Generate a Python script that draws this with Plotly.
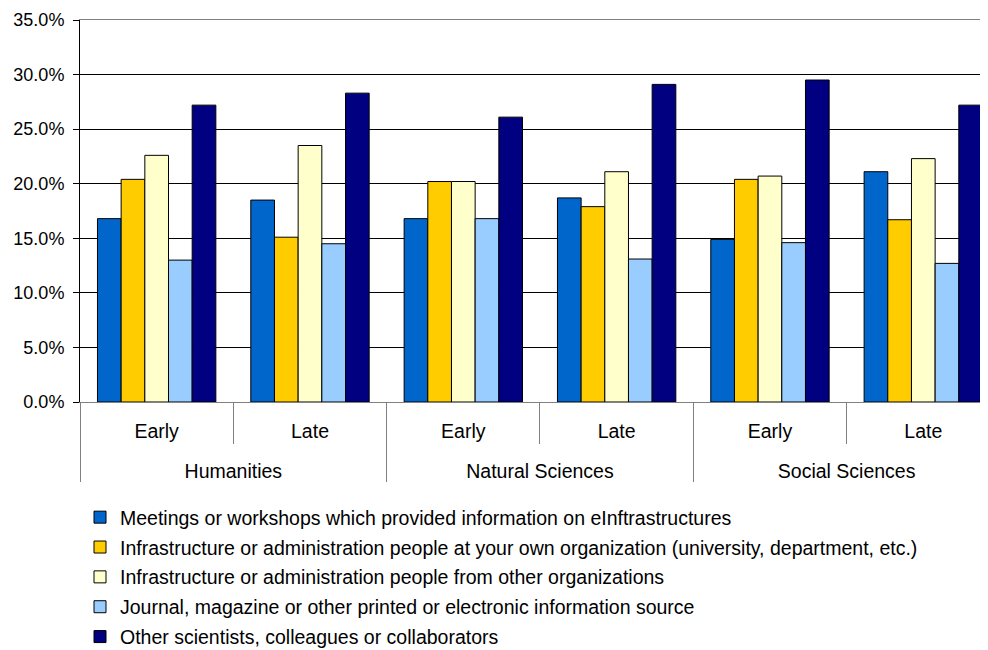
import plotly.graph_objects as go

# x categories (two levels)
disciplines = ["Humanities", "Humanities", "Natural Sciences", "Natural Sciences",
               "Social Sciences", "Social Sciences"]
periods = ["Early", "Late", "Early", "Late", "Early", "Late"]

# share of respondents (%) per information source
meetings = [16.8, 18.5, 16.8, 18.7, 14.9, 21.1]
own_org_staff = [20.4, 15.1, 20.2, 17.9, 20.4, 16.7]
other_org_staff = [22.6, 23.5, 20.2, 21.1, 20.7, 22.3]
journals = [13.0, 14.5, 16.8, 13.1, 14.6, 12.7]
colleagues = [27.2, 28.3, 26.1, 29.1, 29.5, 27.2]

series_names = [
    "Meetings or workshops which provided information on eInftrastructures",
    "Infrastructure or administration people at your own organization (university, department, etc.)",
    "Infrastructure or administration people from other organizations",
    "Journal, magazine or other printed or electronic information source",
    "Other scientists, colleagues or collaborators",
]
series_values = [meetings, own_org_staff, other_org_staff, journals, colleagues]
colors = ["#0066CC", "#FFCC00", "#FFFFCC", "#99CCFF", "#000080"]

FONT = "Arial, Liberation Sans, sans-serif"

# blank second line under the inner labels leaves room between the two label rows
period_labels = [p + "<br><span style='font-size:30px'> </span>" for p in periods]

fig = go.Figure()
for i, (name, vals, col) in enumerate(zip(series_names, series_values, colors)):
    fig.add_trace(go.Bar(
        x=[disciplines, period_labels], y=vals, name=name, legendgroup=str(i),
        marker=dict(color=col, line=dict(color="#000000", width=1)),
    ))

# page body adds an 8px offset, so the figure is 8px smaller than the window
fig.update_layout(
    width=980, height=642,
    margin=dict(l=72, r=0, t=12, b=248, autoexpand=False),
    paper_bgcolor="white", plot_bgcolor="white",
    font=dict(family=FONT, size=19.5, color="#000000"),
    barmode="group", bargap=0.228, bargroupgap=0,
    legend=dict(
        x=0.0, xanchor="left", y=-0.2513, yanchor="top",
        font=dict(size=19.5), tracegroupgap=1.5, bgcolor="rgba(0,0,0,0)",
    ),
)
fig.update_yaxes(
    range=[0, 35], dtick=5, tickformat=".1f", ticksuffix="%",
    showgrid=True, gridcolor="#000000", gridwidth=1,
    showline=True, linecolor="#000000", linewidth=1,
    ticks="outside", ticklen=6, tickcolor="#000000", ticklabelstandoff=5,
    tickfont=dict(size=18), zeroline=False, automargin=False,
)
fig.update_xaxes(
    type="multicategory", range=[-0.5, 5.422],
    showline=True, linecolor="#808080", linewidth=1, mirror=True,
    ticks="outside", tickson="boundaries", ticklen=41, tickcolor="#808080",
    showdividers=True, dividercolor="#808080", dividerwidth=1,
    ticklabelstandoff=12,
    tickfont=dict(size=19.5), showgrid=False, automargin=False,
)

fig.write_html("out.html")
